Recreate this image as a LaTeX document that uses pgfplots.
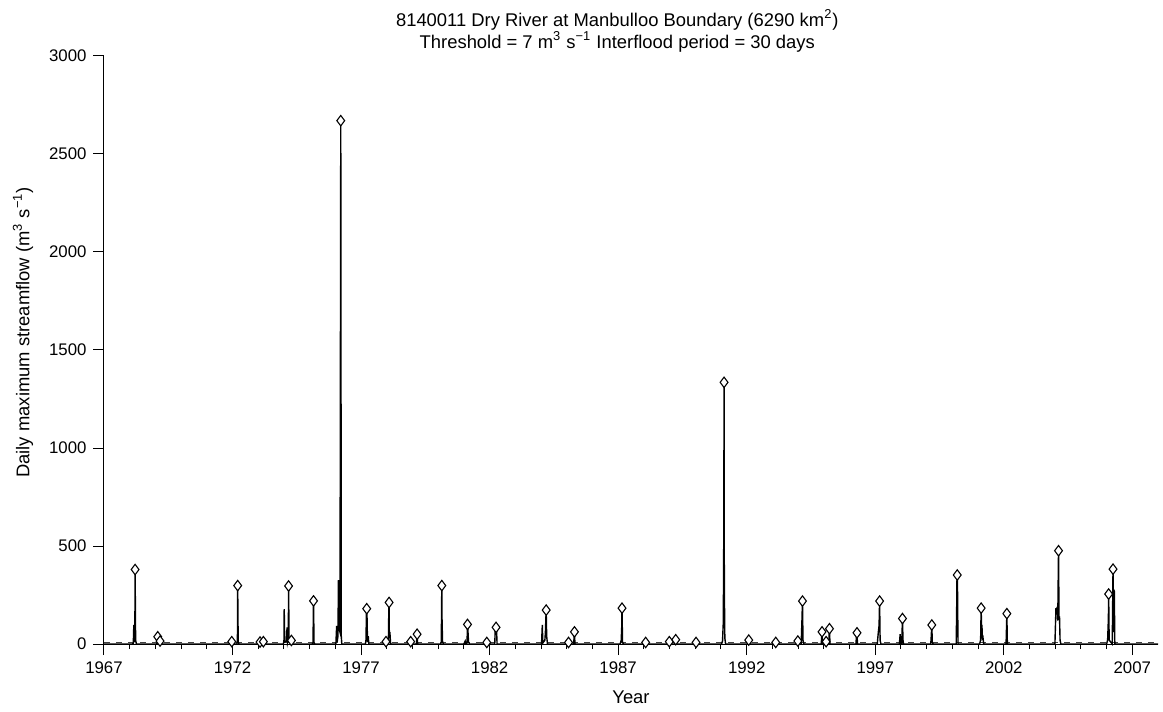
\documentclass[border=0pt]{standalone}
\usepackage{fontspec}
\setmainfont{Liberation Sans}
\usepackage{pgfplots}
\pgfplotsset{compat=1.18}

% event peaks (diamonds)
\pgfplotstableread{
year peak
1968.21 380
1969.09 37
1969.18 15
1971.97 12
1972.20 298
1973.07 10
1973.20 12
1974.18 296
1974.29 18
1975.15 220
1976.21 2670
1977.22 180
1977.97 12
1978.09 212
1978.93 12
1979.18 50
1980.14 298
1981.14 100
1981.89 8
1982.25 85
1984.20 173
1985.07 8
1985.30 62
1987.15 183
1988.07 8
1988.99 12
1989.24 22
1990.03 8
1991.12 1335
1992.08 20
1993.13 8
1993.99 15
1994.17 219
1994.93 62
1995.09 12
1995.22 78
1996.29 57
1997.17 219
1998.06 130
1999.20 97
2000.19 352
2001.12 183
2002.12 155
2004.13 476
2006.08 255
2006.25 382
}\peaks

\begin{document}
\fontsize{9.2}{10}\selectfont
\begin{tikzpicture}
\begin{axis}[
    width=527pt, height=294pt, scale only axis,
    xmin=1967, xmax=2008, ymin=0, ymax=3000,
    axis x line=bottom, axis y line=left,
    axis line style={-, line width=0.5pt},
    xtick={1967,1972,...,2007}, minor x tick num=4,
    ytick={0,500,...,3000},
    tick align=outside,
    major tick length=5.5pt, minor tick length=2.5pt,
    tick style={black, line width=0.5pt},
    /pgf/number format/assume math mode=true,
    /pgf/number format/set thousands separator={},
    tick label style={font=\fontsize{8.4}{9}\selectfont},
    every axis title/.style={at={([yshift=12.5pt]axis description cs:0.487,1)}, anchor=center, align=center, font=\fontsize{9.2}{9.6}\selectfont},
    title={8140011 Dry River at Manbulloo Boundary (6290 km\textsuperscript{2})\\Threshold = 7 m\textsuperscript{3} s\textsuperscript{−1} Interflood period = 30 days},
    every axis x label/.style={at={([yshift=-26.5pt]axis description cs:0.5,0)}, anchor=center, font=\fontsize{9.2}{10}\selectfont},
    xlabel={Year},
    every axis y label/.style={at={([xshift=-40.5pt]axis description cs:0,0.53)}, anchor=center, rotate=90, font=\fontsize{9.2}{10}\selectfont},
    ylabel={Daily maximum streamflow (m\textsuperscript{3} s\textsuperscript{−1})},
    clip=false,
]
\coordinate (bl) at (rel axis cs:0,0);
\coordinate (tr) at (rel axis cs:1,1);
% threshold
\addplot[black!75, dash pattern=on 3pt off 3pt, line width=0.7pt] coordinates {(1967,7) (2008,7)};
% daily series
\addplot[black, line width=0.7pt] coordinates {
(1967.00,0)
(1968.10,0)(1968.14,4)(1968.16,97)(1968.18,10)(1968.20,30)(1968.21,380)(1968.23,20)(1968.26,0)
(1969.05,0)(1969.08,10)(1969.09,37)(1969.11,5)(1969.17,4)(1969.18,15)(1969.20,0)
(1971.94,0)(1971.97,12)(1971.99,0)
(1972.17,0)(1972.19,20)(1972.20,298)(1972.22,10)(1972.25,0)
(1973.05,0)(1973.07,10)(1973.10,0)(1973.18,0)(1973.20,12)(1973.22,0)
(1973.98,0)(1974.00,20)(1974.01,178)(1974.03,10)(1974.10,15)(1974.12,85)(1974.14,10)(1974.17,30)(1974.18,296)(1974.20,12)(1974.27,5)(1974.29,18)(1974.31,0)
(1975.10,0)(1975.13,5)(1975.15,220)(1975.17,8)(1975.20,0)
(1976.02,0)(1976.05,92)(1976.07,10)(1976.10,40)(1976.12,326)(1976.14,80)(1976.18,60)(1976.21,2670)(1976.23,40)(1976.25,0)
(1977.17,0)(1977.19,20)(1977.21,160)(1977.22,180)(1977.23,150)(1977.25,10)(1977.28,40)(1977.30,0)
(1977.94,0)(1977.97,12)(1978.00,0)(1978.06,0)(1978.08,180)(1978.09,212)(1978.10,30)(1978.12,60)(1978.15,0)
(1978.90,0)(1978.93,12)(1978.96,0)(1979.15,0)(1979.17,30)(1979.18,50)(1979.20,0)
(1980.10,0)(1980.12,10)(1980.14,298)(1980.15,120)(1980.17,10)(1980.20,0)
(1981.00,0)(1981.05,15)(1981.08,0)(1981.12,0)(1981.14,100)(1981.16,60)(1981.18,10)(1981.22,0)
(1981.87,0)(1981.89,8)(1981.91,0)
(1982.20,0)(1982.22,80)(1982.24,60)(1982.25,85)(1982.27,75)(1982.29,0)
(1984.02,0)(1984.05,97)(1984.07,5)(1984.15,20)(1984.17,60)(1984.20,173)(1984.22,40)(1984.25,0)
(1985.05,0)(1985.07,8)(1985.10,0)(1985.27,0)(1985.30,62)(1985.32,0)
(1987.08,0)(1987.12,20)(1987.14,90)(1987.15,183)(1987.17,10)(1987.20,0)
(1988.05,0)(1988.07,8)(1988.09,0)(1988.97,0)(1988.99,12)(1989.01,0)(1989.22,0)(1989.24,22)(1989.27,0)
(1990.01,0)(1990.03,8)(1990.05,0)
(1991.02,0)(1991.06,15)(1991.09,110)(1991.11,587)(1991.12,1335)(1991.13,300)(1991.15,30)(1991.18,0)
(1992.05,0)(1992.08,20)(1992.10,0)
(1993.11,0)(1993.13,8)(1993.15,0)(1993.97,0)(1993.99,15)(1994.01,0)
(1994.12,0)(1994.15,122)(1994.17,219)(1994.19,20)(1994.22,0)
(1994.90,0)(1994.93,62)(1994.95,0)(1995.07,0)(1995.09,12)(1995.11,0)(1995.19,0)(1995.22,78)(1995.24,0)
(1996.25,0)(1996.27,40)(1996.29,57)(1996.31,0)
(1997.08,0)(1997.12,60)(1997.15,95)(1997.17,219)(1997.19,20)(1997.22,0)
(1997.94,0)(1997.97,50)(1997.99,0)(1998.03,0)(1998.06,130)(1998.08,20)(1998.10,0)
(1999.16,0)(1999.18,40)(1999.20,97)(1999.22,10)(1999.25,0)
(2000.15,0)(2000.17,200)(2000.18,340)(2000.19,352)(2000.20,300)(2000.22,0)
(2001.06,0)(2001.10,20)(2001.12,183)(2001.14,60)(2001.15,97)(2001.17,30)(2001.19,35)(2001.22,0)
(2002.09,0)(2002.11,100)(2002.12,155)(2002.14,0)
(2003.99,0)(2004.03,183)(2004.05,150)(2004.08,190)(2004.10,120)(2004.13,476)(2004.15,130)(2004.17,133)(2004.19,20)(2004.22,0)
(2006.00,0)(2006.04,20)(2006.07,130)(2006.08,255)(2006.10,20)(2006.22,0)(2006.25,382)(2006.27,60)(2006.28,275)(2006.30,270)(2006.32,0)
(2008.00,0)
};
% peaks over threshold
\addplot[only marks, mark=diamond*, mark size=2.6pt,
    mark options={draw=black, fill=white, line width=0.55pt}] table[x=year, y=peak] {\peaks};
\end{axis}
\pgfresetboundingbox
\path ([shift={(-52pt,-33.5pt)}]bl) rectangle ([shift={(2.5pt,28pt)}]tr);
\end{tikzpicture}
\end{document}
